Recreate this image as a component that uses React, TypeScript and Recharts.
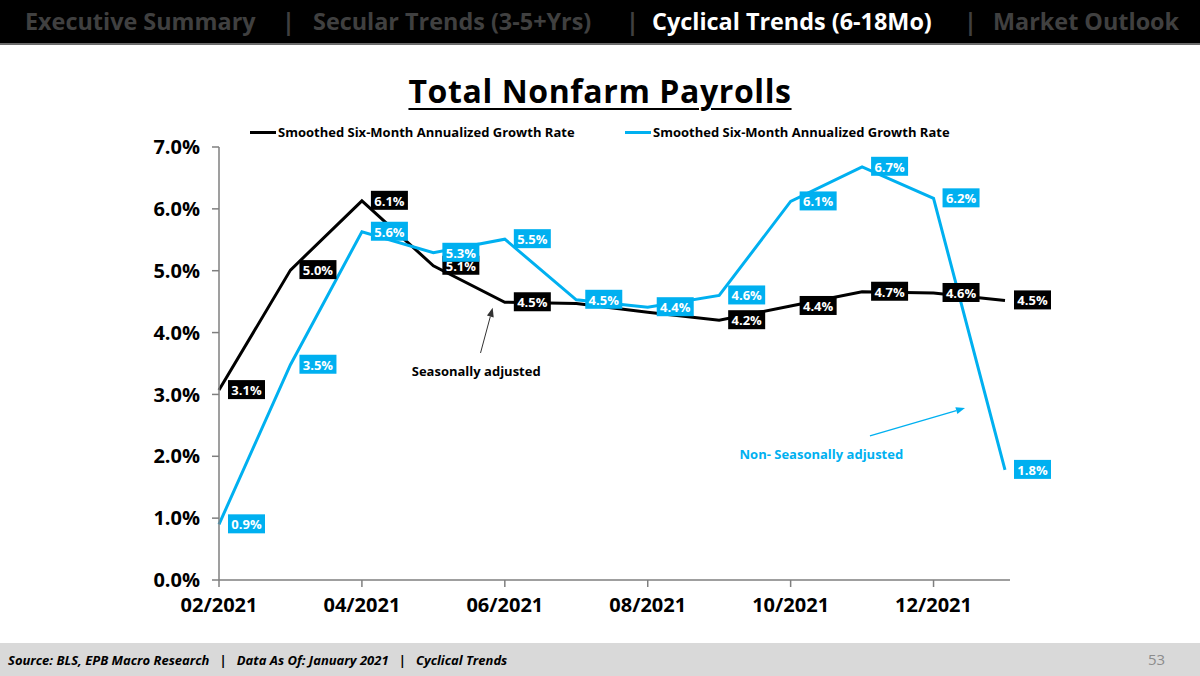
import { LineChart, Line, XAxis, YAxis, ReferenceLine, ReferenceDot, LabelList } from "recharts"

// monthly points, 02/2021 .. 01/2022
const months = [
  "02/2021", "03/2021", "04/2021", "05/2021", "06/2021", "07/2021",
  "08/2021", "09/2021", "10/2021", "11/2021", "12/2021", "01/2022",
]
const seasonallyAdjusted = [3.07, 5.01, 6.13, 5.08, 4.49, 4.47, 4.33, 4.2, 4.43, 4.66, 4.64, 4.52]
const notSeasonallyAdjusted = [0.9, 3.48, 5.63, 5.29, 5.51, 4.53, 4.41, 4.6, 6.12, 6.68, 6.17, 1.78]
const saHiddenLabels = ["07/2021", "08/2021"]
const yTicks = [0, 1, 2, 3, 4, 5, 6, 7]
const xTicks = [0, 2, 4, 6, 8, 10]

const navItems = [
  { text: "Executive Summary", active: false },
  { text: "Secular Trends (3-5+Yrs)", active: false },
  { text: "Cyclical Trends (6-18Mo)", active: true },
  { text: "Market Outlook", active: false },
]

const BLUE = "#00B0F0"
const FONT = "'Open Sans', sans-serif"

const data = months.map((m, i) => ({
  i,
  month: m,
  sa: seasonallyAdjusted[i],
  nsa: notSeasonallyAdjusted[i],
}))

const boxLabel = (fill: string, hidden: string[] = []) => (p: any) => {
  if (hidden.includes(months[p.index])) return null
  const x = Number(p.x) + 9
  const y = Number(p.y)
  return (
    <g>
      <rect x={x} y={y - 10} width={37} height={19} fill={fill} />
      <text
        x={x + 18.5}
        y={y}
        textAnchor="middle"
        dominantBaseline="central"
        fill="#fff"
        fontSize={13}
        fontWeight={700}
        fontFamily={FONT}
      >
        {`${Number(p.value).toFixed(1)}%`}
      </text>
    </g>
  )
}

const arrow = (color: string, width: number) => (p: any) => {
  const { x1, y1, x2, y2 } = p
  const a = Math.atan2(y2 - y1, x2 - x1)
  const bx = x2 - 9 * Math.cos(a)
  const by = y2 - 9 * Math.sin(a)
  const w = 3.5
  const pts = `${x2},${y2} ${bx + w * Math.sin(a)},${by - w * Math.cos(a)} ${bx - w * Math.sin(a)},${by + w * Math.cos(a)}`
  return (
    <g>
      <line x1={x1} y1={y1} x2={bx} y2={by} stroke={color} strokeWidth={width} />
      <polygon points={pts} fill={color} />
    </g>
  )
}

const note = (text: string, color: string) => (p: any) => (
  <text
    x={p.cx}
    y={p.cy}
    textAnchor="middle"
    dominantBaseline="central"
    fill={color}
    fontSize={13}
    fontWeight={700}
    fontFamily={FONT}
  >
    {text}
  </text>
)

function Header() {
  const lefts = [25, 313, 652, 993]
  const bars = [282, 626, 964]
  return (
    <div style={{ position: "absolute", left: 0, top: 0, width: 1200, height: 43, background: "#000", borderBottom: "2px solid #6b6b6b" }}>
      {navItems.map((n, k) => (
        <div
          key={n.text}
          style={{
            position: "absolute", left: lefts[k], top: 5, fontSize: 23.4, fontWeight: 700,
            color: n.active ? "#fff" : "#404040", whiteSpace: "nowrap",
          }}
        >
          {n.text}
        </div>
      ))}
      {bars.map((x) => (
        <div key={x} style={{ position: "absolute", left: x, top: 5, fontSize: 23.4, fontWeight: 700, color: "#404040" }}>|</div>
      ))}
    </div>
  )
}

function LegendRow() {
  const items = [
    { color: "#000", left: 250 },
    { color: BLUE, left: 625 },
  ]
  return (
    <>
      {items.map((it) => (
        <div key={it.left} style={{ position: "absolute", left: it.left, top: 123, display: "flex", alignItems: "center", whiteSpace: "nowrap" }}>
          <span style={{ display: "inline-block", width: 26, height: 3, background: it.color, marginRight: 2 }} />
          <span style={{ fontSize: 13, fontWeight: 700, color: "#000" }}>Smoothed Six-Month Annualized Growth Rate</span>
        </div>
      ))}
    </>
  )
}

export default function App() {
  return (
    <div style={{ position: "absolute", left: 0, top: 0, width: 1200, height: 676, background: "#fff", overflow: "hidden", fontFamily: FONT }}>
      <Header />
      <div
        style={{
          position: "absolute", left: 0, width: 1200, top: 69, textAlign: "center", fontSize: 32,
          letterSpacing: 0.6, fontWeight: 700, color: "#000", textDecoration: "underline",
          textDecorationThickness: 2, textUnderlineOffset: 5,
        }}
      >
        Total Nonfarm Payrolls
      </div>
      <LegendRow />
      <div style={{ position: "absolute", left: 0, top: 0 }}>
        <LineChart width={1200} height={630} data={data} margin={{ top: 147, right: 190, bottom: 10, left: 139 }}>
          <XAxis
            dataKey="i"
            type="number"
            domain={[0, 11.07]}
            ticks={xTicks}
            tickFormatter={(v: number) => months[v]}
            axisLine={{ stroke: "#7f7f7f", strokeWidth: 1.5 }}
            tickLine={{ stroke: "#7f7f7f", strokeWidth: 1.5 }}
            tickSize={7}
            tickMargin={11}
            height={40}
            tick={{ fill: "#000", fontSize: 20, fontWeight: 700, fontFamily: FONT }}
          />
          <YAxis
            domain={[0, 7]}
            ticks={yTicks}
            tickFormatter={(v: number) => `${v.toFixed(1)}%`}
            axisLine={{ stroke: "#7f7f7f", strokeWidth: 1.5 }}
            tickLine={{ stroke: "#7f7f7f", strokeWidth: 1.5 }}
            tickSize={7}
            tickMargin={12}
            width={80}
            tick={{ fill: "#000", fontSize: 20, fontWeight: 700, fontFamily: FONT }}
          />
          <Line dataKey="sa" stroke="#000" strokeWidth={3} dot={false} isAnimationActive={false}>
            <LabelList dataKey="sa" content={boxLabel("#000", saHiddenLabels)} />
          </Line>
          <Line dataKey="nsa" stroke={BLUE} strokeWidth={3} dot={false} isAnimationActive={false}>
            <LabelList dataKey="nsa" content={boxLabel(BLUE)} />
          </Line>
          <ReferenceLine segment={[{ x: 3.66, y: 3.67 }, { x: 3.83, y: 4.4 }]} shape={arrow("#333", 1)} />
          <ReferenceLine segment={[{ x: 9.11, y: 2.33 }, { x: 10.44, y: 2.78 }]} shape={arrow(BLUE, 1.3)} />
          <ReferenceDot x={3.6} y={3.38} r={0} shape={note("Seasonally adjusted", "#000")} />
          <ReferenceDot x={8.43} y={2.04} r={0} shape={note("Non- Seasonally adjusted", BLUE)} />
        </LineChart>
      </div>
      <div style={{ position: "absolute", left: 0, top: 643, width: 1200, height: 33, background: "#d9d9d9" }}>
        <div style={{ position: "absolute", left: 8, top: 8, fontSize: 13, fontWeight: 700, fontStyle: "italic", color: "#000", whiteSpace: "pre" }}>
          {"Source: BLS, EPB Macro Research   |   Data As Of: January 2021   |   Cyclical Trends"}
        </div>
        <div style={{ position: "absolute", left: 1148, top: 6, fontSize: 15, color: "#8c8c8c" }}>53</div>
      </div>
    </div>
  )
}
